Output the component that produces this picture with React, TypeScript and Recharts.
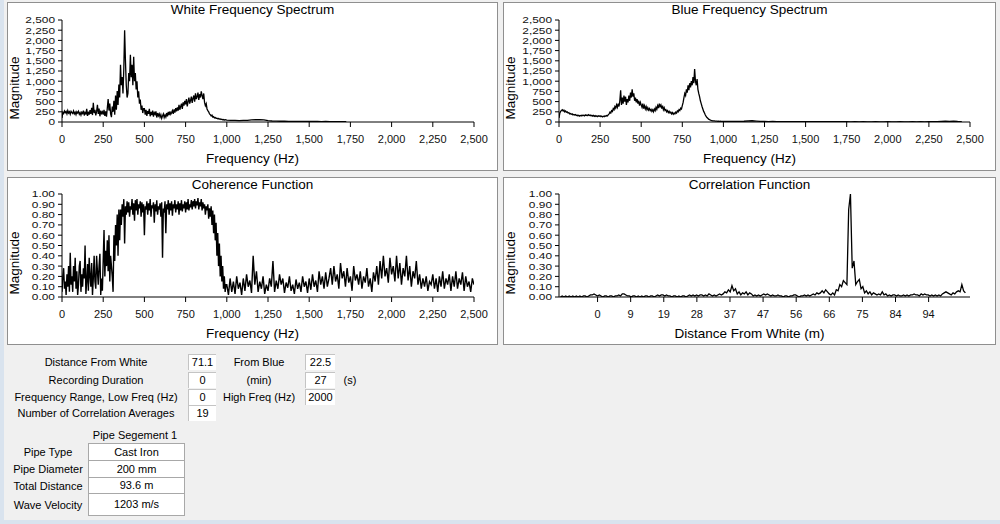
import React from 'react';
import { LineChart, Line, XAxis, YAxis } from 'recharts';

// White sensor spectrum: 5 Hz bins from 0 Hz, then 25 Hz bins from 1000 Hz
const whiteLowStart = 0;
const whiteLowStep = 5;
const whiteLowMag = [
  100, 240, 210, 270, 230, 260, 200, 280, 220, 250,
  190, 260, 230, 210, 270, 200, 240, 180, 250, 220,
  260, 190, 230, 170, 240, 210, 280, 160, 230, 200,
  320, 150, 250, 180, 290, 200, 350, 170, 470, 220,
  300, 160, 260, 420, 200, 330, 140, 280, 210, 250,
  180, 300, 150, 260, 130, 350, 560, 280, 450, 200,
  120, 380, 250, 520, 180, 650, 300, 760, 420, 920,
  600, 1400, 900, 1100, 700, 1300, 2250, 1500, 900, 600,
  700, 1200, 1000, 1650, 1100, 1400, 900, 1600, 1000, 1200,
  800, 1000, 600, 750, 450, 550, 300, 400, 220, 330,
  330, 180, 300, 150, 270, 200, 320, 140, 250, 170,
  280, 130, 230, 190, 260, 110, 220, 150, 200, 120,
  180, 90, 150, 200, 110, 170, 120, 220, 140, 250,
  170, 260, 190, 230, 280, 200, 310, 230, 340, 260,
  360, 280, 420, 300, 380, 450, 320, 480, 400, 520,
  430, 560, 380, 500, 600, 450, 530, 620, 470, 580,
  650, 500, 700, 560, 620, 720, 540, 680, 600, 750,
  650, 560, 700, 480, 400, 450, 320, 280, 250, 200,
  180, 150, 170, 120, 130, 100, 110, 90, 95, 80,
  85, 70, 75, 60, 70, 55, 60, 50, 55, 50,
];
const whiteHighStart = 1000;
const whiteHighStep = 25;
const whiteHighMag = [
  45, 40, 42, 35, 38, 40, 50, 55, 60, 50,
  35, 25, 22, 18, 20, 15, 17, 14, 16, 12,
  14, 12, 13, 11, 12, 10, 11, 10, 10, 8,
];

// Blue sensor spectrum, same binning
const blueLowStart = 0;
const blueLowStep = 5;
const blueLowMag = [
  100, 220, 260, 280, 300, 270, 290, 250, 270, 240,
  250, 220, 230, 200, 210, 190, 200, 175, 185, 170,
  180, 160, 170, 150, 165, 145, 160, 150, 170, 155,
  165, 150, 175, 160, 170, 155, 180, 160, 170, 150,
  165, 145, 160, 140, 155, 135, 150, 130, 150, 140,
  150, 130, 145, 125, 140, 130, 150, 140, 160, 150,
  180, 200, 240, 220, 280, 260, 330, 300, 380, 340,
  420, 360, 450, 380, 520, 780, 420, 600, 450, 650,
  500, 620, 420, 560, 480, 650, 520, 720, 600, 800,
  620, 700, 520, 600, 480, 560, 450, 520, 400, 480,
  420, 360, 450, 330, 400, 320, 380, 300, 350, 290,
  330, 280, 310, 260, 300, 250, 320, 280, 360, 310,
  400, 340, 450, 380, 420, 330, 400, 300, 350, 280,
  300, 250, 280, 230, 260, 220, 240, 200, 230, 190,
  220, 200, 240, 220, 270, 250, 300, 280, 340, 320,
  400, 480, 600, 700, 650, 800, 720, 900, 780, 950,
  850, 1000, 900, 1100, 950, 1300, 1000, 900, 1050, 800,
  700, 620, 520, 450, 380, 320, 260, 220, 170, 140,
  110, 90, 70, 60, 50, 40, 35, 30, 28, 25,
  22, 20, 22, 18, 20, 16, 18, 15, 17, 15,
];
const blueHighStart = 1000;
const blueHighStep = 25;
const blueHighMag = [
  15, 14, 16, 13, 14, 18, 25, 30, 22, 15,
  12, 10, 12, 9, 10, 8, 9, 8, 9, 8,
  8, 7, 8, 7, 7, 6, 7, 6, 7, 6,
  6, 5, 6, 5, 6, 5, 5, 6, 5, 5,
  6, 5, 5, 6, 5, 5, 6, 5, 6, 5,
  8, 6, 10, 15, 20, 15, 18, 12, 10,
];

// Coherence: 5 Hz bins up to 1000 Hz, 10 Hz bins from 1000 to 2500 Hz
const cohLowStart = 0;
const cohLowStep = 5;
const coherenceLow = [
  .05, .20, .28, .08, .15, .02, .22, .10, .30, .05,
  .43, .12, .20, .05, .30, .15, .38, .08, .25, .02,
  .12, .30, .35, .05, .22, .10, .28, .18, .50, .03,
  .15, .32, .06, .38, .20, .10, .33, .02, .18, .40,
  .15, .08, .40, .25, .12, .30, .42, .02, .18, .06,
  .35, .65, .20, .45, .30, .55, .25, .60, .15, .40,
  .30, .20, .05, .60, .35, .70, .50, .80, .40, .85,
  .55, .85, .70, .90, .78, .95, .52, .88, .80, .93,
  .82, .92, .78, .88, .85, .95, .80, .91, .74, .94,
  .84, .95, .80, .90, .86, .93, .78, .92, .82, .90,
  .60, .88, .85, .93, .80, .91, .84, .95, .78, .89,
  .86, .92, .72, .90, .83, .94, .80, .88, .85, .91,
  .78, .92, .38, .86, .82, .93, .62, .90, .85, .94,
  .80, .91, .84, .93, .79, .90, .86, .94, .82, .90,
  .85, .93, .80, .91, .84, .94, .83, .90, .86, .93,
  .82, .92, .85, .95, .84, .90, .87, .94, .85, .93,
  .88, .95, .86, .93, .89, .96, .85, .92, .88, .95,
  .84, .92, .86, .90, .80, .88, .84, .90, .76, .86,
  .78, .88, .70, .84, .62, .80, .55, .72, .40, .62,
  .30, .52, .20, .40, .15, .30, .08, .20, .05, .12,
];
const cohHighStart = 1000;
const cohHighStep = 10;
const coherenceHigh = [
  .12, .02, .18, .05, .15, .03, .20, .08, .14, .02,
  .18, .06, .22, .10, .16, .04, .40, .12, .25, .05,
  .15, .08, .20, .03, .12, .06, .18, .10, .35, .05,
  .16, .08, .22, .12, .18, .04, .14, .09, .20, .06,
  .12, .03, .17, .08, .14, .05, .20, .10, .15, .04,
  .18, .07, .22, .10, .16, .05, .25, .12, .20, .08,
  .24, .10, .18, .28, .12, .30, .15, .22, .08, .33,
  .18, .25, .10, .28, .14, .20, .06, .30, .16, .22,
  .12, .25, .08, .20, .14, .28, .10, .18, .05, .24,
  .15, .30, .12, .35, .18, .40, .20, .28, .14, .38,
  .22, .30, .15, .40, .18, .33, .12, .28, .20, .40,
  .16, .30, .10, .25, .18, .35, .12, .22, .08, .18,
  .10, .20, .06, .15, .12, .22, .08, .18, .05, .20,
  .10, .25, .08, .18, .12, .22, .06, .20, .10, .25,
  .08, .18, .12, .24, .06, .20, .10, .15, .05, .18,
  .12,
];

// Cross-correlation vs distance from white sensor, 0.5 m steps from -10.5 m
const corrStart = -10.5;
const corrStep = 0.5;
const correlation = [
  .00, .01, .00, .01, .00, .01, .00, .01, .00, .01,
  .00, .01, .00, .01, .01, .00, .01, .02, .02, .03,
  .02, .01, .02, .01, .00, .01, .01, .00, .01, .01,
  .00, .01, .01, .02, .01, .03, .03, .02, .01, .01,
  .00, .01, .01, .00, .01, .00, .01, .00, .01, .01,
  .00, .01, .01, .00, .01, .02, .01, .02, .02, .01,
  .02, .01, .01, .00, .01, .01, .00, .01, .00, .01,
  .01, .00, .01, .02, .01, .02, .01, .02, .01, .02,
  .02, .01, .02, .01, .03, .02, .01, .02, .01, .02,
  .03, .02, .03, .05, .04, .07, .05, .11, .06, .08,
  .03, .05, .02, .04, .03, .05, .02, .04, .03, .01,
  .02, .01, .02, .01, .02, .03, .02, .03, .02, .01,
  .02, .01, .01, .02, .01, .01, .00, .01, .01, .00,
  .01, .01, .02, .02, .01, .00, .01, .01, .02, .01,
  .02, .01, .02, .03, .02, .04, .03, .04, .06, .04,
  .07, .05, .03, .02, .04, .02, .07, .06, .12, .10,
  .16, .14, .12, .85, 1.00, .28, .35, .12, .15, .17,
  .08, .10, .04, .06, .03, .05, .02, .04, .03, .02,
  .03, .02, .05, .02, .03, .01, .02, .01, .02, .02,
  .01, .02, .01, .01, .02, .01, .02, .01, .02, .02,
  .03, .02, .02, .01, .03, .02, .03, .02, .02, .01,
  .02, .01, .02, .01, .02, .01, .03, .04, .05, .04,
  .03, .02, .04, .03, .05, .06, .05, .12, .06, .04,
];

const freqTicks = [0, 250, 500, 750, 1000, 1250, 1500, 1750, 2000, 2250, 2500];
const spectrumTicks = [0, 250, 500, 750, 1000, 1250, 1500, 1750, 2000, 2250, 2500];
const unitTicks = [0, 0.1, 0.2, 0.3, 0.4, 0.5, 0.6, 0.7, 0.8, 0.9, 1.0];
// pipe length 93.6 m split in tenths
const distanceTicks = [0, 9.36, 18.72, 28.08, 37.44, 46.8, 56.16, 65.52, 74.88, 84.24, 93.6];

const series = (start: number, step: number, values: number[]) =>
  values.map((y, i) => ({ x: start + i * step, y }));

const whiteData = [
  ...series(whiteLowStart, whiteLowStep, whiteLowMag),
  ...series(whiteHighStart, whiteHighStep, whiteHighMag),
];
const blueData = [
  ...series(blueLowStart, blueLowStep, blueLowMag),
  ...series(blueHighStart, blueHighStep, blueHighMag),
];
const coherenceData = [
  ...series(cohLowStart, cohLowStep, coherenceLow),
  ...series(cohHighStart, cohHighStep, coherenceHigh),
];
const correlationData = series(corrStart, corrStep, correlation);

const FONT = '"Liberation Sans", Arial, sans-serif';
const Y_W = 50;
const X_H = 30;

const thousands = (v: number) => v.toLocaleString('en-US');
const twoDp = (v: number) => v.toFixed(2);
const rounded = (v: number) => String(Math.round(v));

// small, slightly widened y labels so the 11 stacked ticks don't collide
function YTick(props: any) {
  const { x, y, payload, fmt } = props;
  return (
    <text
      x={x}
      y={y}
      dy="0.36em"
      textAnchor="end"
      fontSize={9.5}
      fill="#111"
      fontFamily={FONT}
      transform={`translate(${x} 0) scale(1.25 1) translate(${-x} 0)`}
    >
      {fmt(payload.value)}
    </text>
  );
}

type PanelProps = {
  left: number;
  top: number;
  width: number;
  height: number;
  title: string;
  xTitle: string;
  data: { x: number; y: number }[];
  xDomain: [number, number];
  xTicks: number[];
  xFormat: (v: number) => string;
  yDomain: [number, number];
  yTicks: number[];
  yFormat: (v: number) => string;
  plotLeft: number;
  plotRight: number;
  plotTop: number;
  plotBottom: number;
  lineWidth: number;
};

function Panel(p: PanelProps) {
  const w = p.width - 2;
  const h = p.height - 2;
  return (
    <div
      style={{
        position: 'absolute',
        left: p.left,
        top: p.top,
        width: p.width,
        height: p.height,
        boxSizing: 'border-box',
        border: '1px solid #8f8f8f',
        background: '#fff',
      }}
    >
      <div style={{ position: 'absolute', left: 0, top: 0 }}>
        <LineChart
          width={w}
          height={h}
          data={p.data}
          margin={{
            top: p.plotTop,
            right: w - p.plotRight,
            bottom: h - p.plotBottom - X_H,
            left: p.plotLeft - Y_W,
          }}
        >
          <XAxis
            type="number"
            dataKey="x"
            domain={p.xDomain}
            ticks={p.xTicks}
            tickFormatter={p.xFormat}
            interval={0}
            height={X_H}
            allowDataOverflow
            tickSize={5}
            tickMargin={8}
            axisLine={{ stroke: '#000' }}
            tickLine={{ stroke: '#000' }}
            tick={{ fontSize: 11, fill: '#111', fontFamily: FONT }}
          />
          <YAxis
            type="number"
            domain={p.yDomain}
            ticks={p.yTicks}
            interval={0}
            width={Y_W}
            allowDataOverflow
            tickSize={4}
            tickMargin={3}
            axisLine={{ stroke: '#000' }}
            tickLine={{ stroke: '#000' }}
            tick={(tp: any) => <YTick {...tp} fmt={p.yFormat} />}
          />
          <Line
            type="linear"
            dataKey="y"
            stroke="#000"
            strokeWidth={p.lineWidth}
            strokeLinejoin="miter"
            dot={false}
            isAnimationActive={false}
          />
        </LineChart>
      </div>
      <div
        style={{
          position: 'absolute',
          left: 0,
          right: 0,
          top: -1,
          textAlign: 'center',
          fontSize: 13.5,
          lineHeight: '16px',
        }}
      >
        {p.title}
      </div>
      <div
        style={{
          position: 'absolute',
          left: 0,
          right: 0,
          top: 148,
          textAlign: 'center',
          fontSize: 13.5,
          lineHeight: '16px',
        }}
      >
        {p.xTitle}
      </div>
      <div
        style={{
          position: 'absolute',
          left: 7,
          top: 85,
          transform: 'translate(-50%, -50%) rotate(-90deg)',
          fontSize: 13.5,
          lineHeight: '16px',
          whiteSpace: 'nowrap',
        }}
      >
        Magnitude
      </div>
    </div>
  );
}

function Label({ cx, cy, text }: { cx: number; cy: number; text: string }) {
  return (
    <div
      style={{
        position: 'absolute',
        left: cx,
        top: cy,
        transform: 'translate(-50%, -50%)',
        whiteSpace: 'nowrap',
        fontSize: 11,
        lineHeight: '13px',
      }}
    >
      {text}
    </div>
  );
}

function Field({ x, cy, w, text }: { x: number; cy: number; w: number; text: string }) {
  return (
    <div
      style={{
        position: 'absolute',
        left: x,
        top: cy - 8,
        width: w,
        height: 16,
        boxSizing: 'border-box',
        background: '#fff',
        borderTop: '1px solid #c4c4c4',
        borderLeft: '1px solid #c4c4c4',
        textAlign: 'center',
        fontSize: 11,
        lineHeight: '15px',
      }}
    >
      {text}
    </div>
  );
}

function Cell({ top, height, text }: { top: number; height: number; text: string }) {
  return (
    <div
      style={{
        position: 'absolute',
        left: 88,
        top,
        width: 97,
        height: height + 1,
        boxSizing: 'border-box',
        background: '#fff',
        border: '1px solid #a8a8a8',
        textAlign: 'center',
        fontSize: 11,
        lineHeight: `${height - 1}px`,
      }}
    >
      {text}
    </div>
  );
}

const rowY = [362, 379.5, 396.5, 413];

export default function App() {
  return (
    <div
      style={{
        position: 'absolute',
        left: 0,
        top: 0,
        width: 1000,
        height: 524,
        overflow: 'hidden',
        background: '#f0f0f0',
        fontFamily: FONT,
        color: '#000',
      }}
    >
      <div style={{ position: 'absolute', left: 0, top: 0, width: 4, height: 524, background: '#d9e3ee' }} />
      <div style={{ position: 'absolute', left: 0, top: 520, width: 1000, height: 4, background: '#d9e3ee' }} />

      <Panel
        left={7} top={2} width={491} height={169}
        title="White Frequency Spectrum" xTitle="Frequency (Hz)"
        data={whiteData}
        xDomain={[0, 2500]} xTicks={freqTicks} xFormat={thousands}
        yDomain={[0, 2500]} yTicks={spectrumTicks} yFormat={thousands}
        plotLeft={54} plotRight={466} plotTop={17} plotBottom={119}
        lineWidth={1.3}
      />
      <Panel
        left={503} top={2} width={493} height={169}
        title="Blue Frequency Spectrum" xTitle="Frequency (Hz)"
        data={blueData}
        xDomain={[0, 2500]} xTicks={freqTicks} xFormat={thousands}
        yDomain={[0, 2500]} yTicks={spectrumTicks} yFormat={thousands}
        plotLeft={55} plotRight={466} plotTop={17} plotBottom={119}
        lineWidth={1.3}
      />
      <Panel
        left={7} top={177} width={491} height={168}
        title="Coherence Function" xTitle="Frequency (Hz)"
        data={coherenceData}
        xDomain={[0, 2500]} xTicks={freqTicks} xFormat={thousands}
        yDomain={[0, 1]} yTicks={unitTicks} yFormat={twoDp}
        plotLeft={54} plotRight={466} plotTop={16} plotBottom={119}
        lineWidth={1.4}
      />
      <Panel
        left={503} top={177} width={493} height={168}
        title="Correlation Function" xTitle="Distance From White (m)"
        data={correlationData}
        xDomain={[-10.9, 105.3]} xTicks={distanceTicks} xFormat={rounded}
        yDomain={[0, 1]} yTicks={unitTicks} yFormat={twoDp}
        plotLeft={55} plotRight={466} plotTop={16} plotBottom={119}
        lineWidth={1.3}
      />

      <Label cx={96} cy={rowY[0]} text="Distance From White" />
      <Label cx={96} cy={rowY[1]} text="Recording Duration" />
      <Label cx={96} cy={rowY[2]} text="Frequency Range, Low Freq (Hz)" />
      <Label cx={96} cy={rowY[3]} text="Number of Correlation Averages" />
      <Field x={188} cy={rowY[0]} w={28} text="71.1" />
      <Field x={188} cy={rowY[1]} w={28} text="0" />
      <Field x={188} cy={rowY[2]} w={28} text="0" />
      <Field x={188} cy={rowY[3]} w={28} text="19" />
      <Label cx={259} cy={rowY[0]} text="From Blue" />
      <Label cx={259} cy={rowY[1]} text="(min)" />
      <Label cx={259} cy={rowY[2]} text="High Freq (Hz)" />
      <Field x={305} cy={rowY[0]} w={30} text="22.5" />
      <Field x={305} cy={rowY[1]} w={30} text="27" />
      <Field x={305} cy={rowY[2]} w={30} text="2000" />
      <Label cx={350} cy={rowY[1]} text="(s)" />

      <Label cx={135} cy={435} text="Pipe Segement 1" />
      <Label cx={48} cy={452} text="Pipe Type" />
      <Label cx={48} cy={469} text="Pipe Diameter" />
      <Label cx={48} cy={485.5} text="Total Distance" />
      <Label cx={48} cy={505} text="Wave Velocity" />
      <Cell top={443} height={17} text="Cast Iron" />
      <Cell top={460} height={17} text="200 mm" />
      <Cell top={477} height={16} text="93.6 m" />
      <Cell top={493} height={22} text="1203 m/s" />
    </div>
  );
}
